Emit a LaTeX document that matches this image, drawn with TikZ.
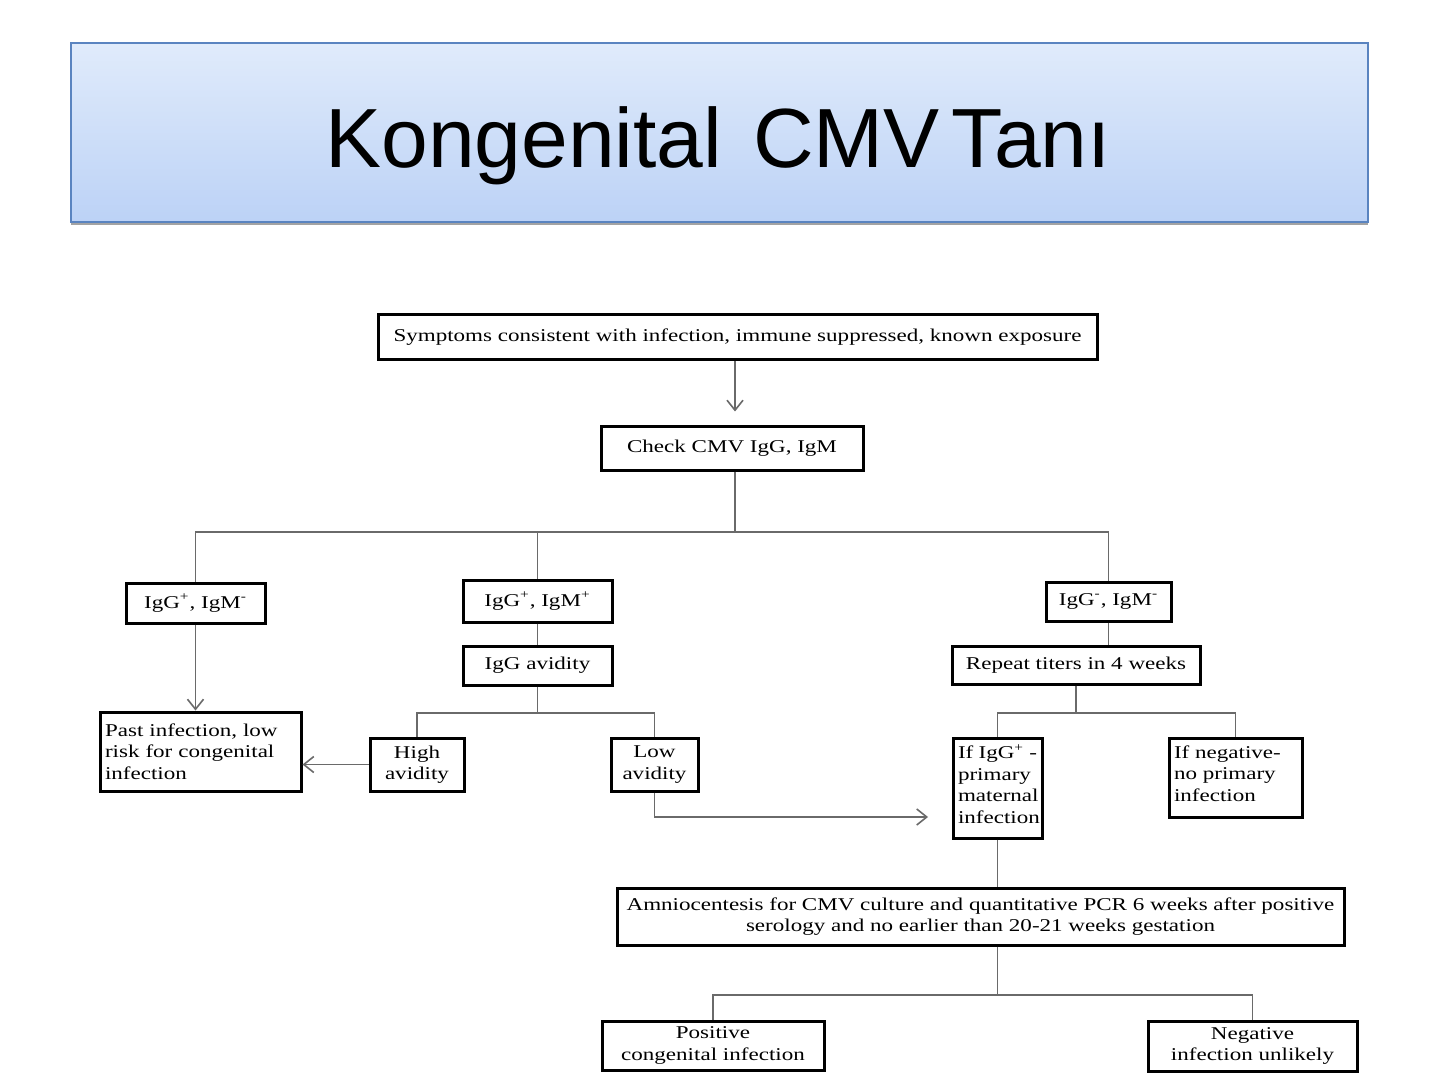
\documentclass[tikz,border=0pt]{standalone}
\usepackage{fontspec}
\setmainfont{Liberation Serif}
\newfontfamily\titlefont{Liberation Sans}
\newfontfamily\figfont[FakeStretch=1.28]{Liberation Serif}
\usetikzlibrary{arrows.meta,shadows}
\definecolor{titletop}{HTML}{E0EBFB}
\definecolor{titlebot}{HTML}{BCD2F6}
\definecolor{titleedge}{HTML}{5A84C0}
\definecolor{lnc}{HTML}{6A6A6A}
\tikzset{
  bx/.style={draw=black, line width=1.5pt, fill=white, inner sep=0pt, font=\figfont\fontsize{9}{10.75}\selectfont, align=center},
  bxl/.style={bx, align=left, inner xsep=2.5pt},
  ln/.style={draw=lnc, line width=0.9pt},
  arr/.style={ln, -{Straight Barb[length=5pt,width=8pt,line width=0.8pt]}},
  ttl/.style={draw=titleedge, line width=0.8pt, top color=titletop, bottom color=titlebot,
    drop shadow={shadow xshift=0pt, shadow yshift=-1.6pt, fill=black!45, opacity=0.8},
    inner sep=0pt}
}
\begin{document}
\begin{tikzpicture}[x=0.5pt,y=-0.5pt]
\useasboundingbox (0,0) rectangle (1440,1080);
\fill[white] (0,0) rectangle (1440,1080);
% title
\node[ttl, minimum width=648.5pt, minimum height=89.5pt] (title) at (719.5,132.5) {};
\node[font=\titlefont\fontsize{42}{48}\selectfont, inner sep=0pt, anchor=base west] (ttext) at (325,168)
  {Kongenital\hspace{15.5pt}CMV\hspace{6pt}Tanı};
% nodes
\node[bx, minimum width=359.5pt, minimum height=22.5pt] (sym) at (737.5,337.5) {Symptoms consistent with infection, immune suppressed, known exposure};
\node[bx, minimum width=131pt, minimum height=21.5pt] (chk) at (732,448.5) {Check CMV IgG, IgM};
\node[bx, minimum width=69.5pt, minimum height=20pt] (a1) at (195.5,603) {IgG\textsuperscript{+}, IgM\textsuperscript{-}};
\node[bx, minimum width=74.5pt, minimum height=21pt] (a2) at (537.5,601) {IgG\textsuperscript{+}, IgM\textsuperscript{+}};
\node[bx, minimum width=62.5pt, minimum height=19.5pt] (a3) at (1108.5,601.5) {IgG\textsuperscript{-}, IgM\textsuperscript{-}};
\node[bx, minimum width=74.5pt, minimum height=19.5pt] (av) at (537.5,665.5) {IgG avidity};
\node[bx, minimum width=124pt, minimum height=19pt] (rep) at (1076,665) {Repeat titers in 4 weeks};
\node[bxl, text width=95.5pt, minimum height=39.5pt] (past) at (200.5,751.5) {Past infection, low\\risk for congenital\\infection};
\node[bx, minimum width=47pt, minimum height=26.5pt] (high) at (417,764.5) {High\\avidity};
\node[bx, minimum width=43.5pt, minimum height=26.5pt] (low) at (654.5,764.5) {Low\\avidity};
\node[bx, inner xsep=2.5pt, inner ysep=1.2pt] (ifp) at (997.5,788) {\parbox[c][47.6pt][t]{39.5pt}{\raggedright\vspace*{2pt}If IgG\textsuperscript{+} -\\primary\\maternal\\infection}};
\node[bx, inner xsep=2.5pt, inner ysep=1.2pt] (ifn) at (1235.5,777.5) {\parbox[c][37.1pt][t]{61.5pt}{\raggedright\vspace*{2.5pt}If negative-\\no primary\\infection}};
\node[bx, minimum width=363.5pt, minimum height=28.5pt] (amn) at (980.5,916.5) {Amniocentesis for CMV culture and quantitative PCR 6 weeks after positive\\serology and no earlier than 20-21 weeks gestation};
\node[bx, minimum width=111pt, minimum height=24.5pt] (pos) at (713,1045.5) {Positive\\congenital infection};
\node[bx, minimum width=104.5pt, minimum height=25pt] (neg) at (1252.5,1046) {Negative\\infection unlikely};
% junctions
\coordinate (j1) at (735,532);
\coordinate (j2) at (537.5,713);
\coordinate (j3) at (928,817);
\coordinate (j4) at (1076,713);
\coordinate (j5) at (997.5,995);
% connectors
\draw[arr] (sym.south -| j1) -- ([yshift=7pt]chk.north -| j1);
\draw[ln] (chk.south -| j1) -- (j1);
\draw[ln] (a1.north) |- (a3.north |- j1) -- (a3.north);
\draw[ln] (a2.north) -- (a2.north |- j1);
\draw[arr] (a1.south) -- (a1.south |- past.north);
\draw[ln] (a2.south) -- (av.north);
\draw[ln] (a3.south) -- (a3.south |- rep.north);
\draw[ln] (av.south) -- (j2);
\draw[ln] (high.north) |- (low.north |- j2) -- (low.north);
\draw[arr] (high.west) -- (high.west -| past.east);
\draw[arr] (low.south) |- (j3);
\draw[ln] (rep.south) -- (j4);
\draw[ln] (ifp.north) |- (ifn.north |- j4) -- (ifn.north);
\draw[ln] (ifp.south) -- (ifp.south |- amn.north);
\draw[ln] (j5 |- amn.south) -- (j5);
\draw[ln] (pos.north) |- (neg.north |- j5) -- (neg.north);
\end{tikzpicture}
\end{document}
